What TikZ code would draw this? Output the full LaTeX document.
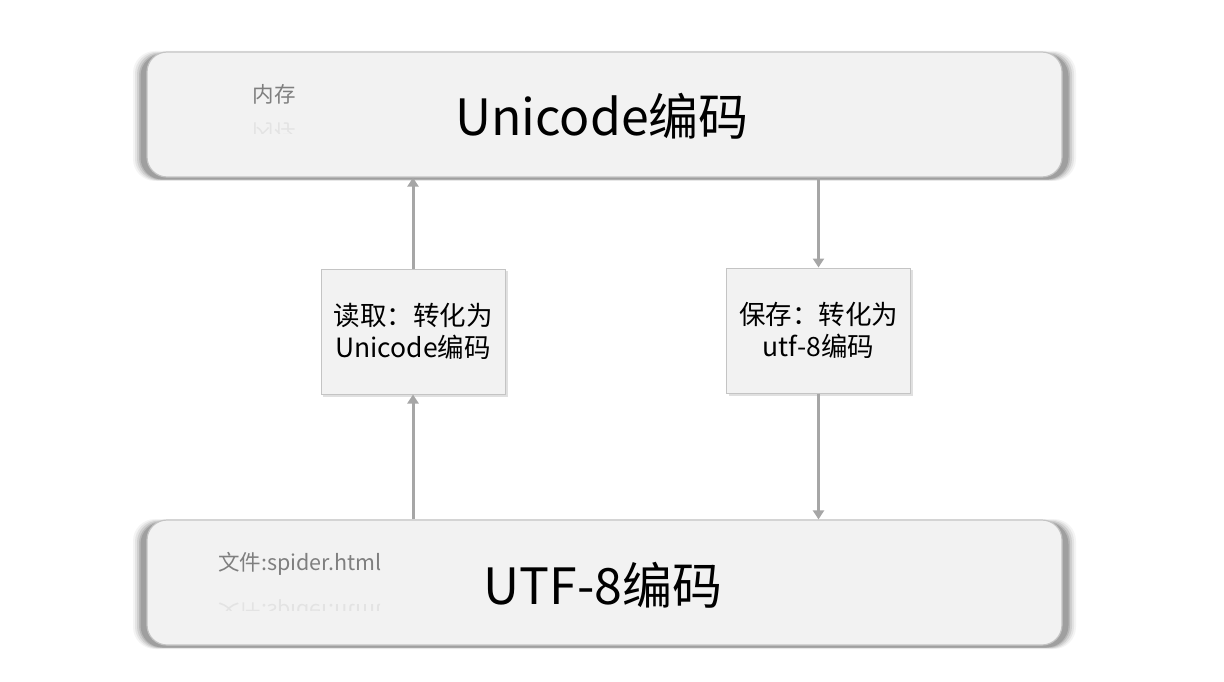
\documentclass[tikz,border=0pt]{standalone}
\usepackage{fontspec}
\setmainfont{Noto Sans CJK SC}
\newfontfamily\cjk{Noto Sans CJK SC}
\usetikzlibrary{arrows.meta}
\definecolor{boxfill}{HTML}{F2F2F2}
\definecolor{boxline}{HTML}{C4C4C4}
\definecolor{arrowgray}{HTML}{A6A6A6}
\definecolor{labelgray}{HTML}{7F7F7F}
\definecolor{shadowgray}{HTML}{707070}
\tikzset{
  bigbox/.style={draw=boxline, line width=1.2pt, fill=boxfill, rounded corners=20pt,
    minimum width=915pt, minimum height=125pt, inner sep=0pt},
  midbox/.style={draw=boxline, line width=1pt, fill=boxfill, minimum width=184pt,
    minimum height=125pt, inner sep=0pt, align=center, font=\cjk\fontsize{26.5}{32}\selectfont},
  bigtext/.style={font=\cjk\fontsize{50}{56}\selectfont, text=black},
  smalltext/.style={font=\cjk\fontsize{21.5}{25}\selectfont, text=labelgray, inner sep=0pt},
  refl/.style={font=\cjk\fontsize{21.5}{25}\selectfont, text=labelgray, inner sep=0pt, opacity=0.13},
  arr/.style={draw=arrowgray, line width=3pt, -{Triangle[width=11pt,length=9pt]}},
}
\begin{document}
\begin{tikzpicture}[x=1pt,y=-1pt]
\useasboundingbox (0,0) rectangle (1224,682);
% shadows of big boxes
\foreach \s/\o in {10/0.08,8/0.12,6/0.18,4/0.25,2.5/0.35}{
  \fill[shadowgray, opacity=\o, rounded corners=22pt] (147-\s-4,52+3-\s*0.4) rectangle (1062+\s+4,177+2+\s*0.2);
  \fill[shadowgray, opacity=\o, rounded corners=22pt] (147-\s-4,520+3-\s*0.4) rectangle (1062+\s+4,645+2+\s*0.2);
}
% small box shadows
\fill[black, opacity=0.12] (323,271) rectangle (508,397);
\fill[black, opacity=0.12] (729,270) rectangle (913,396);

\node[bigbox] (top) at (604.5,114.5) {};
\node[bigbox] (bot) at (604.5,582.5) {};
\node[bigtext] (toptext) at (602,116) {Unicode编码};
\node[bigtext] (bottext) at (603,585) {UTF-8编码};

\node[smalltext] (mem) at (274,94) {内存};
\begin{scope}
  \clip (200,113) rectangle (360,134);
  \node[refl] (memr) at (274,133) {\scalebox{1}[-1]{内存}};
\end{scope}
\node[smalltext, anchor=west] (file) at (218,564) {文件:spider.html};
\begin{scope}
  \clip (200,597) rectangle (420,610);
  \node[refl, anchor=west] (filer) at (218,611) {\scalebox{1}[-1]{文件:spider.html}};
\end{scope}

\node[midbox] (read) at (413,331.5) {读取：转化为\\Unicode编码};
\node[midbox] (save) at (818.5,330.5) {保存：转化为\\utf-8编码};

\draw[arr] (read.north) -- (read.north |- top.south);
\draw[arr] (read.south |- bot.north) -- (read.south);
\draw[arr] (save.north |- top.south) -- (save.north);
\draw[arr] (save.south) -- (save.south |- bot.north);
\end{tikzpicture}
\end{document}
